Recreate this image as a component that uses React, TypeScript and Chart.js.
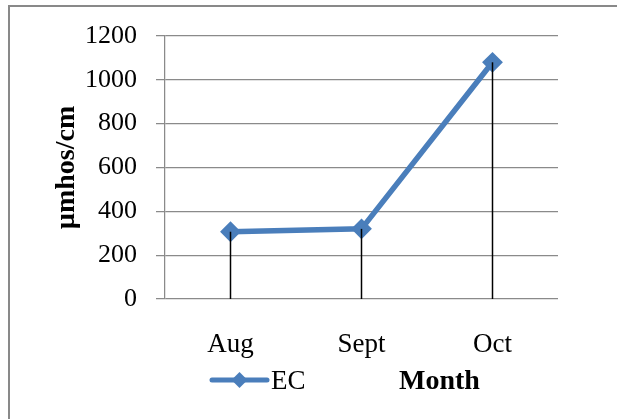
import React, { useEffect, useRef } from "react";
import { Chart, registerables } from "chart.js";

Chart.register(...registerables);

const months = ["Aug", "Sept", "Oct"];
const ecValues = [307, 320, 1080];
const seriesLabel = "EC";
const yTitle = "µmhos/cm";
const xTitle = "Month";
const yMin = 0;
const yMax = 1200;
const yStep = 200;

const FONT = "'Liberation Serif', 'Times New Roman', serif";
const BLUE = "#4a7ebb";
const GRID = "#8a8a8a";

const frameAndLegend = {
  id: "frameAndLegend",
  beforeDraw(chart: any) {
    const ctx = chart.ctx;
    ctx.save();
    ctx.strokeStyle = "#898989";
    ctx.lineWidth = 2;
    ctx.beginPath();
    ctx.moveTo(9, chart.height + 10);
    ctx.lineTo(9, 6);
    ctx.lineTo(chart.width + 10, 6);
    ctx.stroke();
    ctx.restore();
  },
  afterDatasetsDraw(chart: any) {
    const ctx = chart.ctx;
    const meta = chart.getDatasetMeta(0);
    const base = chart.scales.y.getPixelForValue(0);
    ctx.save();
    ctx.strokeStyle = "#000000";
    ctx.lineWidth = 1.5;
    meta.data.forEach((pt: any) => {
      ctx.beginPath();
      ctx.moveTo(pt.x, pt.y);
      ctx.lineTo(pt.x, base);
      ctx.stroke();
    });
    ctx.restore();
  },
  afterDraw(chart: any) {
    const ctx = chart.ctx;
    const ly = 380;
    const lx0 = 212;
    const lx1 = 267;
    ctx.save();
    ctx.strokeStyle = BLUE;
    ctx.lineWidth = 5;
    ctx.lineCap = "round";
    ctx.beginPath();
    ctx.moveTo(lx0, ly);
    ctx.lineTo(lx1, ly);
    ctx.stroke();
    const cx = (lx0 + lx1) / 2;
    const r = 8;
    ctx.fillStyle = BLUE;
    ctx.beginPath();
    ctx.moveTo(cx - r, ly);
    ctx.lineTo(cx, ly - r);
    ctx.lineTo(cx + r, ly);
    ctx.lineTo(cx, ly + r);
    ctx.closePath();
    ctx.fill();
    ctx.fillStyle = "#000000";
    ctx.textBaseline = "alphabetic";
    ctx.textAlign = "left";
    ctx.font = `27px ${FONT}`;
    ctx.fillText(seriesLabel, 271, 389);
    ctx.font = `bold 28px ${FONT}`;
    ctx.fillText(xTitle, 399, 389);
    ctx.restore();
  },
};

export default function App() {
  const ref = useRef<HTMLCanvasElement>(null);

  useEffect(() => {
    if (!ref.current) return;
    const chart = new Chart(ref.current, {
      type: "line",
      data: {
        labels: months,
        datasets: [
          {
            label: seriesLabel,
            data: ecValues,
            borderColor: BLUE,
            backgroundColor: BLUE,
            borderWidth: 5.5,
            pointStyle: "rectRot",
            pointRadius: 9,
            pointBorderWidth: 2,
            pointBackgroundColor: BLUE,
            pointBorderColor: BLUE,
            tension: 0,
          },
        ],
      },
      options: {
        responsive: false,
        animation: false,
        layout: { padding: { left: 0, right: 59, top: 36, bottom: 0 } },
        plugins: {
          legend: { display: false },
          tooltip: { enabled: false },
        },
        scales: {
          x: {
            type: "category",
            offset: true,
            grid: { display: false },
            border: { display: false },
            ticks: {
              color: "#000000",
              padding: 22,
              font: { family: FONT, size: 27 },
              maxRotation: 0,
            },
            afterFit(scale: any) {
              scale.height = 120;
            },
          },
          y: {
            min: yMin,
            max: yMax,
            ticks: {
              stepSize: yStep,
              color: "#000000",
              padding: 19,
              font: { family: FONT, size: 26 },
              callback: (v: any) => String(v),
            },
            grid: {
              color: GRID,
              lineWidth: 1.25,
              tickLength: 9,
              drawTicks: true,
            },
            border: { display: true, color: GRID, width: 1.25 },
            title: {
              display: true,
              text: yTitle,
              color: "#000000",
              font: { family: FONT, size: 28, weight: "bold" },
              padding: { top: 50, bottom: 0 },
            },
            afterFit(scale: any) {
              scale.width = 165;
            },
          },
        },
      },
      plugins: [frameAndLegend],
    });
    return () => chart.destroy();
  }, []);

  return (
    <div style={{ position: "absolute", left: 0, top: 0, width: 617, height: 419, background: "#ffffff" }}>
      <canvas ref={ref} width={617} height={419} style={{ display: "block", width: 617, height: 419 }} />
    </div>
  );
}
